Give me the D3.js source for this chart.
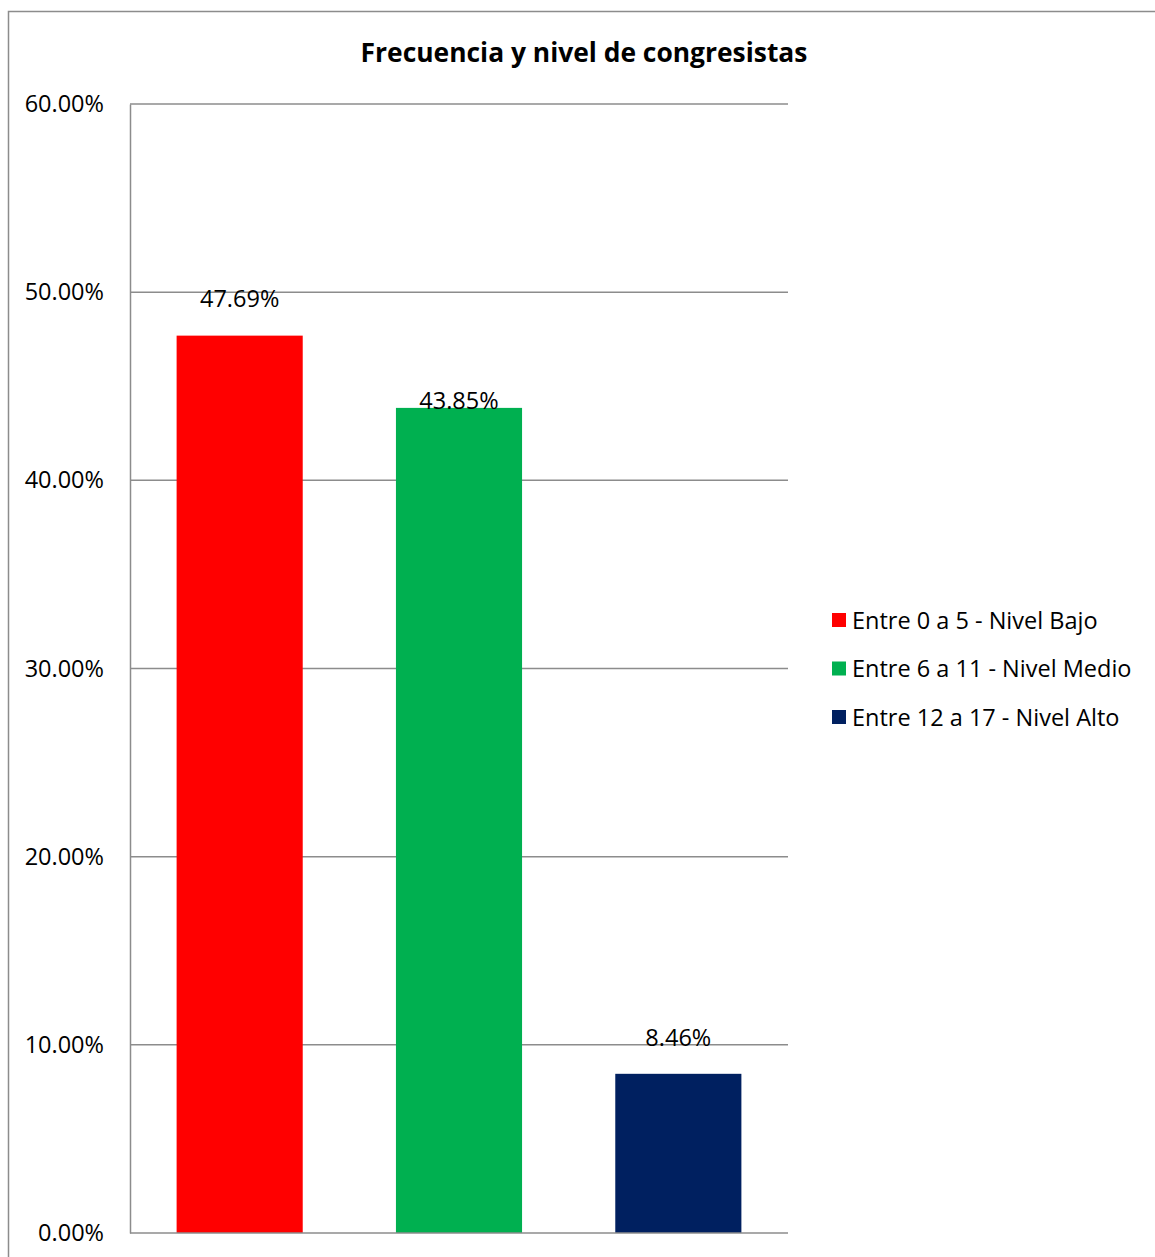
<!DOCTYPE html>
<html><head><meta charset="utf-8">
<script src="https://cdn.jsdelivr.net/npm/d3@7"></script>
<style>body{margin:0;background:#fff}svg{display:block}</style>
</head><body>
<script>
const categories = ["Entre 0 a 5 - Nivel Bajo", "Entre 6 a 11 - Nivel Medio", "Entre 12 a 17 - Nivel Alto"];
const values = [0.4769, 0.4385, 0.0846];
const colors = ["#ff0000", "#00b050", "#002060"];
const yTicks = [0, 0.1, 0.2, 0.3, 0.4, 0.5, 0.6];
const title = "Frecuencia y nivel de congresistas";

const W = 1155, H = 1257;
const font = "'Open Sans', 'Liberation Sans', sans-serif";
const fs = 23.5;
const svg = d3.select("body").append("svg").attr("width", W).attr("height", H);

// outer chart border (extends beyond the frame at right and bottom)
svg.append("rect").attr("x", 8.5).attr("y", 11.5).attr("width", 1300).attr("height", 1400)
  .attr("fill", "none").attr("stroke", "#8c8c8c").attr("stroke-width", 1.5);

const m = {left: 130, right: 788, top: 104, bottom: 1233};
const x = d3.scaleBand().domain(categories).range([m.left, m.right]).paddingInner(0.425).paddingOuter(0.2125);
const y = d3.scaleLinear().domain([0, 0.6]).range([m.bottom, m.top]);

// gridlines
svg.append("g").selectAll("line").data(yTicks.filter(t => t > 0)).join("line")
  .attr("x1", m.left).attr("x2", m.right).attr("y1", d => y(d)).attr("y2", d => y(d))
  .attr("stroke", "#8c8c8c").attr("stroke-width", 1.5);

// y axis
const yAxis = d3.axisLeft(y).tickValues(yTicks).tickFormat(d3.format(".2%")).tickSize(0).tickPadding(26);
const ga = svg.append("g").attr("transform", `translate(${m.left},0)`).call(yAxis);
ga.select(".domain").attr("stroke", "#8c8c8c").attr("stroke-width", 1.5);
ga.selectAll("text").attr("font-family", font).attr("font-size", fs).attr("fill", "#000");

// bars
svg.append("g").selectAll("rect").data(values).join("rect")
  .attr("x", (d, i) => x(categories[i])).attr("width", x.bandwidth())
  .attr("y", d => y(d)).attr("height", d => y(0) - y(d))
  .attr("fill", (d, i) => colors[i]);

// x axis line
svg.append("line").attr("x1", m.left).attr("x2", m.right).attr("y1", y(0)).attr("y2", y(0))
  .attr("stroke", "#8c8c8c").attr("stroke-width", 1.5);

// data labels
const labelDy = [29, -1, 28];
svg.append("g").selectAll("text").data(values).join("text")
  .attr("x", (d, i) => x(categories[i]) + x.bandwidth() / 2)
  .attr("y", (d, i) => y(d) - labelDy[i])
  .attr("text-anchor", "middle").attr("font-family", font).attr("font-size", fs).attr("fill", "#000")
  .text(d => d3.format(".2%")(d));

// title
svg.append("text").attr("x", 584).attr("y", 62).attr("text-anchor", "middle")
  .attr("font-family", font).attr("font-weight", "bold").attr("font-size", 26.4).attr("fill", "#000")
  .text(title);

// legend
const lg = svg.append("g").selectAll("g").data(categories).join("g")
  .attr("transform", (d, i) => `translate(832, ${620 + i * 48.5})`);
lg.append("rect").attr("x", 0).attr("y", -7).attr("width", 14).attr("height", 14).attr("fill", (d, i) => colors[i]);
lg.append("text").attr("x", 20).attr("y", 8.5).attr("font-family", font).attr("font-size", fs).attr("fill", "#000").text(d => d);
</script>
</body></html>
